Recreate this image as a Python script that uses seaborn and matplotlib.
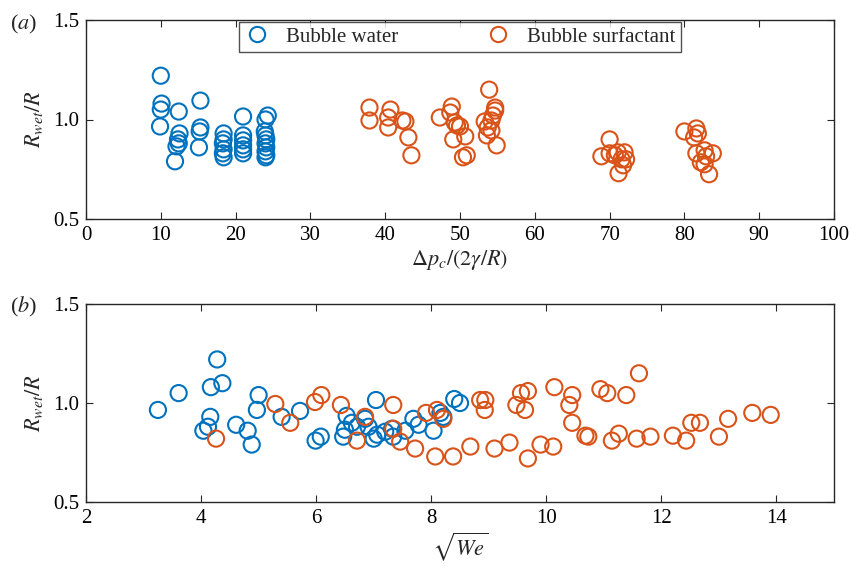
import numpy as np
import pandas as pd
import matplotlib
matplotlib.use("Agg")
import matplotlib.pyplot as plt
from matplotlib.lines import Line2D
import seaborn as sns

# ---------------- data ----------------
# panel (a): x = dp_c/(2 gamma/R), y = R_wet/R
a_water_x = [10.0, 10.1, 10.0, 9.9,
             12.4, 12.5, 12.3, 12.1, 12.4, 11.9,
             15.3, 15.3, 15.2, 15.1,
             18.4, 18.4, 18.3, 18.4, 18.3, 18.4,
             21.0, 21.0, 21.0, 21.0, 21.0, 21.0,
             24.3, 24.0, 23.9, 24.0, 24.1, 24.0, 24.1, 24.0, 24.1, 24.0]
a_water_y = [1.22, 1.08, 1.05, 0.965,
             1.04, 0.93, 0.90, 0.865, 0.88, 0.79,
             1.095, 0.96, 0.94, 0.86,
             0.93, 0.90, 0.88, 0.85, 0.83, 0.81,
             1.015, 0.92, 0.895, 0.87, 0.85, 0.83,
             1.02, 1.00, 0.94, 0.92, 0.90, 0.88, 0.86, 0.84, 0.82, 0.81]

a_surf_x = [37.9, 37.9, 40.7, 40.4, 40.4, 42.3, 42.7, 43.1, 43.5,
            47.3, 48.9, 48.7, 49.3, 49.6, 50.0, 49.1, 50.7, 50.4, 50.9,
            53.9, 54.7, 54.7, 54.4, 54.2, 53.3, 53.7, 53.6, 54.2, 54.9,
            68.9, 70.0, 70.0, 70.7, 71.1, 72.0, 71.6, 72.2, 71.2, 71.8,
            80.0, 81.6, 81.8, 81.3, 81.6, 82.7, 83.8, 82.2, 82.9, 82.7, 83.3]
a_surf_y = [1.06, 0.995, 1.05, 1.01, 0.96, 0.995, 0.99, 0.91, 0.82,
            1.01, 1.065, 1.035, 0.985, 0.97, 0.965, 0.90, 0.915, 0.81, 0.82,
            1.15, 1.06, 1.045, 1.02, 0.995, 0.99, 0.96, 0.92, 0.945, 0.87,
            0.815, 0.90, 0.83, 0.82, 0.835, 0.835, 0.80, 0.80, 0.73, 0.77,
            0.94, 0.955, 0.93, 0.91, 0.83, 0.845, 0.83, 0.785, 0.815, 0.775, 0.725]

# panel (b): x = sqrt(We), y = R_wet/R
b_water_x = [3.25, 3.61, 4.28, 4.17, 4.37, 4.16, 4.04, 4.12, 4.61, 4.81, 4.88,
             5.00, 4.97, 5.40, 5.72, 5.99, 6.08, 7.04,
             6.53, 6.62, 6.50, 6.47, 6.71, 6.85, 6.91, 7.00, 7.06, 7.20,
             7.34, 7.32, 7.55, 7.69, 7.78, 8.04, 8.16, 8.21, 8.40, 8.50]
b_water_y = [0.965, 1.05, 1.22, 1.08, 1.10, 0.93, 0.86, 0.88, 0.89, 0.86, 0.79,
             1.04, 0.965, 0.93, 0.96, 0.81, 0.83, 1.015,
             0.935, 0.90, 0.865, 0.83, 0.88, 0.92, 0.88, 0.82, 0.84, 0.855,
             0.83, 0.87, 0.86, 0.92, 0.89, 0.86, 0.95, 0.93, 1.02, 1.00]

b_surf_x = [4.26, 5.29, 5.55, 5.98, 6.09, 6.43, 6.85, 6.71,
            7.34, 7.34, 7.46, 7.72, 7.91, 8.10, 8.21, 8.07, 8.38, 8.68,
            8.85, 8.94, 8.93, 9.10, 9.36, 9.48, 9.56, 9.68, 9.63, 9.68, 9.90,
            10.12, 10.14, 10.45, 10.40, 10.45, 10.68, 10.73, 10.94, 11.06,
            11.14, 11.26, 11.39, 11.61, 11.57, 11.81, 12.20, 12.43, 12.52,
            12.67, 13.00, 13.16, 13.58, 13.90]
b_surf_y = [0.82, 0.995, 0.90, 1.005, 1.04, 0.99, 0.93, 0.81,
            0.99, 0.87, 0.805, 0.77, 0.95, 0.965, 0.92, 0.73, 0.73, 0.78,
            1.015, 1.015, 0.965, 0.77, 0.80, 0.99, 1.05, 1.06, 0.965, 0.72, 0.79,
            0.78, 1.08, 1.04, 0.99, 0.90, 0.835, 0.83, 1.07, 1.05,
            0.81, 0.845, 1.04, 1.15, 0.82, 0.83, 0.835, 0.81, 0.90,
            0.90, 0.83, 0.92, 0.95, 0.94]

series_names = ["Bubble water", "Bubble surfactant"]
a_xticks = list(range(0, 101, 10))
b_xticks = [2, 4, 6, 8, 10, 12, 14]
yticks = [0.5, 1.0, 1.5]
ytick_labels = ["0.5", "1.0", "1.5"]

# ---------------- style ----------------
sns.set_style("white")
plt.rcParams["font.family"] = ["Liberation Serif", "DejaVu Serif"]
plt.rcParams["mathtext.fontset"] = "stix"

BLUE = "#0072BD"
ORANGE = "#D95319"
palette = {series_names[0]: BLUE, series_names[1]: ORANGE}
AXC = "#262626"
FS = 15
MLW = 1.5

fig = plt.figure(figsize=(8.5, 5.7), dpi=100)
W, H = 850, 570
def rect(l, t, r, b):
    return [l / W, 1 - b / H, (r - l) / W, (b - t) / H]

ax_a = fig.add_axes(rect(86, 20, 834, 219))
ax_b = fig.add_axes(rect(86, 304, 834, 502))

df_a = pd.DataFrame({
    "x": a_water_x + a_surf_x,
    "y": a_water_y + a_surf_y,
    "series": [series_names[0]] * len(a_water_x) + [series_names[1]] * len(a_surf_x),
})
df_b = pd.DataFrame({
    "x": b_water_x + b_surf_x,
    "y": b_water_y + b_surf_y,
    "series": [series_names[0]] * len(b_water_x) + [series_names[1]] * len(b_surf_x),
})

for ax, df in [(ax_a, df_a), (ax_b, df_b)]:
    sns.scatterplot(data=df, x="x", y="y", hue="series", palette=palette,
                    marker="o", s=135, linewidth=MLW, legend=False, ax=ax)
    for coll in ax.collections:
        fc = coll.get_facecolors()
        coll.set_edgecolors(fc)
        coll.set_facecolors("none")
        coll.set_linewidths(MLW)

def style_axis(ax):
    ax.set_ylim(0.5, 1.5)
    ax.set_yticks(yticks)
    ax.set_yticklabels(ytick_labels)
    for sp in ax.spines.values():
        sp.set_visible(True)
        sp.set_color(AXC)
        sp.set_linewidth(1.0)
    ax.tick_params(direction="in", length=5, width=0.8, color=AXC,
                   labelsize=FS, labelcolor="black", top=True, right=True,
                   bottom=True, left=True, pad=5)
    ax.set_ylabel(r"$R_{wet}/R$", fontsize=FS + 1, labelpad=6)

ax_a.set_xlim(0, 100)
ax_a.set_xticks(a_xticks)
style_axis(ax_a)
ax_a.set_xlabel(r"$\Delta p_c/(2\gamma/R)$", fontsize=FS + 1, labelpad=2)

ax_b.set_xlim(2, 15)
ax_b.set_xticks(b_xticks)
style_axis(ax_b)
ax_b.set_xlabel(r"$\sqrt{We}$", fontsize=FS + 1, labelpad=2)

handles = [Line2D([], [], linestyle="none", marker="o", markersize=11,
                  markerfacecolor="none", markeredgecolor=c, markeredgewidth=MLW)
           for c in (BLUE, ORANGE)]
leg = ax_a.legend(handles, series_names, loc="upper center",
                  bbox_to_anchor=(0.5, 0.99), ncol=2, fontsize=FS,
                  frameon=True, fancybox=False, edgecolor=AXC,
                  handlelength=1.2, handletextpad=0.8, columnspacing=4.2,
                  borderpad=0.25, borderaxespad=0.0)
leg.get_frame().set_linewidth(1.0)

fig.text(10 / W, 1 - 29 / H, r"($a$)", fontsize=FS + 1, va="baseline")
fig.text(10 / W, 1 - 312 / H, r"($b$)", fontsize=FS + 1, va="baseline")

fig.savefig("out.png", dpi=100)
